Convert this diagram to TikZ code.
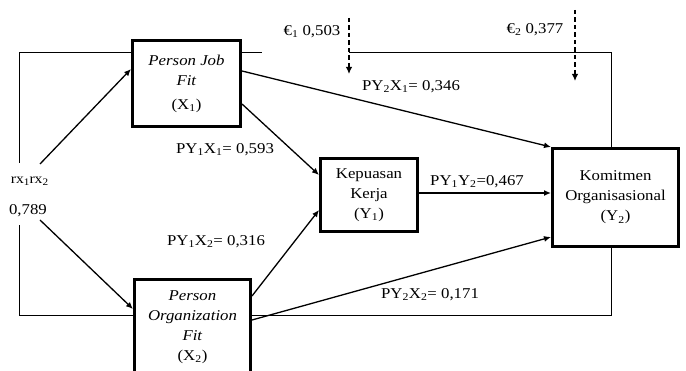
\documentclass[tikz,border=0pt]{standalone}
\usepackage{fontspec}
\setmainfont{Liberation Serif}[FakeStretch=1.12]
\usetikzlibrary{arrows.meta}
\newcommand{\mysub}[1]{\raisebox{-2.5pt}{\fontsize{10}{10}\selectfont #1}}
\begin{document}
\begin{tikzpicture}[x=1pt,y=-1pt,
  box/.style={draw,line width=3pt,fill=white,inner sep=0pt,align=center,font=\fontsize{15}{20}\selectfont},
  lbl/.style={inner sep=0pt,font=\fontsize{15}{18}\selectfont},
  arr/.style={line width=1.3pt,-{Latex[length=7pt,width=6pt]}},
  frame/.style={line width=0.8pt},
  err/.style={line width=1.4pt,dash pattern=on 4.5pt off 3pt,-{Latex[length=7pt,width=6.5pt]}}]
\useasboundingbox (0,0) rectangle (686,371);
% outer frame
\draw[frame] (19,163) -- (19,52) -- (262,52);
\draw[frame] (349,52) -- (611,52) -- (611,315) -- (19,315) -- (19,225);
% boxes
\node[box,minimum width=108pt,minimum height=86pt] (x1) at (186.5,83.5)
  {\textit{Person Job}\\\textit{Fit}\\[4pt](X\textsubscript{1})};
\node[box,minimum width=97pt,minimum height=73pt] (y1) at (369,195)
  {\fontsize{15}{19}\selectfont Kepuasan\\Kerja\\(Y\textsubscript{1})};
\node[box,minimum width=126pt,minimum height=98pt] (y2) at (615.5,197.5)
  {Komitmen\\Organisasional\\(Y\textsubscript{2})};
\node[box,minimum width=116pt,minimum height=95pt] (x2) at (192.5,327)
  {\fontsize{15}{21.5}\selectfont\textit{Person}\\\textit{Organization}\\\textit{Fit}\\(X\textsubscript{2})};
% labels
\node[lbl,font=\fontsize{14}{16}\selectfont] (rx) at (29.5,181) {rx\mysub{1}rx\mysub{2}};
\node[lbl] (v) at (28,211) {0,789};
\node[lbl] (e1) at (312,32) {€\textsubscript{1} 0,503};
\node[lbl] (e2) at (535,30) {€\textsubscript{2} 0,377};
\node[lbl] (l1) at (411,87) {PY\textsubscript{2}X\textsubscript{1}= 0,346};
\node[lbl] (l2) at (225,150) {PY\textsubscript{1}X\textsubscript{1}= 0,593};
\node[lbl] (l3) at (477,182) {PY\textsubscript{1}Y\textsubscript{2}=0,467};
\node[lbl] (l4) at (216,242) {PY\textsubscript{1}X\textsubscript{2}= 0,316};
\node[lbl] (l5) at (430,295) {PY\textsubscript{2}X\textsubscript{2}= 0,171};
% free ends
\coordinate (rxout) at (40,164);
\coordinate (vout) at (40,220);
\coordinate (e1s) at (349,18);
\coordinate (e1t) at (349,74);
\coordinate (e2s) at (575,10);
\coordinate (e2t) at (575,81);
% arrows
\draw[arr] (rxout) -- (x1.west |- 0,69);
\draw[arr] (vout) -- (x2.west |- 0,309);
\draw[arr] (x1.east |- 0,71) -- (y2.north west);
\draw[arr] (x1.east |- 0,104) -- (y1.west |- 0,175);
\draw[arr] (x2.east |- 0,296) -- (y1.west |- 0,210);
\draw[arr] (x2.east |- 0,320) -- (y2.west |- 0,237);
\draw[arr] (y1.east |- 0,193) -- (y2.west |- 0,193);
\draw[err] (e1s) -- (e1t);
\draw[err] (e2s) -- (e2t);
\end{tikzpicture}
\end{document}
